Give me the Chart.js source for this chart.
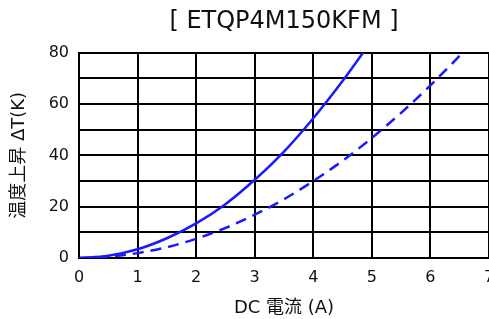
<!DOCTYPE html>
<html>
<head>
<meta charset="utf-8">
<script src="https://cdn.jsdelivr.net/npm/chart.js@4"></script>
<style>
  html, body { margin: 0; padding: 0; background: #fff; }
  #wrap { width: 489px; height: 319px; }
</style>
</head>
<body>
<div id="wrap"><canvas id="chart"></canvas></div>
<script>
// values
const titleText = '[ ETQP4M150KFM ]';
const xTitle = 'DC 電流 (A)';
const yTitle = '温度上昇 ΔT(K)';

const solidCurrent = [0, 0.5, 1, 1.5, 2, 2.5, 3, 3.5, 4, 4.5, 4.85];
const solidTemp    = [0, 0.9, 3.4, 7.7, 13.5, 21, 30.5, 41.5, 54.5, 69, 80];

const dashCurrent = [0, 0.5, 1, 1.5, 2, 2.5, 3, 3.5, 4, 4.5, 5, 5.5, 6, 6.55];
const dashTemp    = [0, 0.5, 1.9, 4.2, 7.5, 11.7, 16.9, 22.9, 30, 37.9, 46.8, 56.6, 67.3, 80];

const FONT = '"DejaVu Sans", "Noto Sans CJK JP", sans-serif';
const BLUE = '#1a1aff';

const toPoints = (xs, ys) => xs.map((x, i) => ({ x: x, y: ys[i] }));

new Chart(document.getElementById('chart'), {
    type: 'line',
    data: {
        datasets: [
            {
                data: toPoints(solidCurrent, solidTemp),
                borderColor: BLUE,
                borderWidth: 2.5,
                pointRadius: 0,
                cubicInterpolationMode: 'monotone',
                fill: false
            },
            {
                data: toPoints(dashCurrent, dashTemp),
                borderColor: BLUE,
                borderWidth: 2.5,
                borderDash: [11, 7],
                pointRadius: 0,
                cubicInterpolationMode: 'monotone',
                fill: false
            }
        ]
    },
    options: {
        responsive: true,
        maintainAspectRatio: false,
        animation: false,
        layout: { padding: 0 },
        plugins: {
            legend: { display: false },
            tooltip: { enabled: false },
            title: {
                display: true,
                text: titleText,
                fullSize: false,
                color: '#111',
                font: { family: FONT, size: 24, weight: 'normal' },
                padding: { top: 7, bottom: 17 }
            }
        },
        scales: {
            x: {
                type: 'linear',
                min: 0,
                max: 7,
                ticks: {
                    stepSize: 1,
                    color: '#111',
                    padding: 10,
                    font: { family: FONT, size: 16 }
                },
                grid: { color: '#000', lineWidth: 2, drawTicks: false },
                border: { color: '#000', width: 2 },
                title: {
                    display: true,
                    text: xTitle,
                    color: '#111',
                    font: { family: FONT, size: 18 },
                    padding: { top: 0, bottom: 0 }
                },
                afterFit: function(scale) {
                    scale.height = 61;
                    scale.paddingLeft = 0;
                    scale.paddingRight = 0;
                }
            },
            y: {
                min: 0,
                max: 80,
                ticks: {
                    stepSize: 10,
                    color: '#111',
                    padding: 10,
                    font: { family: FONT, size: 16 },
                    callback: function(value) {
                        return value % 20 === 0 ? value : '';
                    }
                },
                grid: { color: '#000', lineWidth: 2, drawTicks: false },
                border: { color: '#000', width: 2 },
                title: {
                    display: true,
                    text: yTitle,
                    color: '#111',
                    font: { family: FONT, size: 18 },
                    padding: { top: 9, bottom: 0 }
                },
                afterFit: function(scale) {
                    scale.width = 79;
                    scale.paddingTop = 0;
                    scale.paddingBottom = 0;
                }
            }
        }
    }
});
</script>
</body>
</html>
